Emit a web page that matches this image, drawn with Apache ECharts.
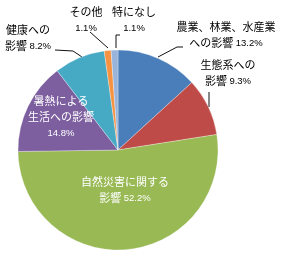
<!DOCTYPE html>
<html>
<head>
<meta charset="utf-8">
<script src="https://cdn.jsdelivr.net/npm/echarts@6/dist/echarts.min.js"></script>
<style>
  html, body { margin: 0; padding: 0; background: #fff; }
  #chart { width: 282px; height: 255px; }
</style>
</head>
<body>
<div id="chart"></div>
<script>
// 回答の内訳（%）
var categories = ['農業、林業、水産業への影響', '生態系への影響', '自然災害に関する影響', '暑熱による生活への影響', '健康への影響', 'その他', '特になし'];
var labelNames = ['農業、林業、水産業\nへの影響', '生態系への\n影響', '自然災害に関する\n影響', '暑熱による\n生活への影響', '健康への\n影響', 'その他', '特になし'];
var values = [13.2, 9.3, 52.2, 14.8, 8.2, 1.1, 1.1];
var colors = ['#4a7ebb', '#be4b48', '#98b954', '#7d5fa0', '#46aac5', '#f59343', '#98b4da'];
// 割合を改行して出すか
var pctOnNewLine = [false, false, false, true, false, true, true];
var insideLabel = [false, false, true, true, false, false, false];
// ラベルの置き場所（中心）と引き出し線
var labelPos = [[226, 35], [228, 73], [125, 190], [61, 117], [28, 38], [86, 20], [134, 20]];
var leaderLines = [
    [[158, 57], [177, 47], [183, 47]],
    [[209, 107], [209, 92]],
    null,
    null,
    [[82, 57], [73, 51], [55, 50]],
    [[108, 48], [90, 32]],
    [[116, 48], [116, 35], [120, 35]]
];

var chart = echarts.init(document.getElementById('chart'));

var data = [];
for (var i = 0; i < categories.length; i++) {
    var inside = insideLabel[i];
    data.push({
        name: categories[i],
        value: values[i],
        itemStyle: { color: colors[i] },
        label: {
            position: inside ? 'inside' : 'outside',
            color: inside ? '#fff' : '#000'
        },
        labelLine: { show: !inside }
    });
}

var option = {
    animation: false,
    series: [{
        type: 'pie',
        center: [118, 150],
        radius: 100,
        startAngle: 90,
        clockwise: true,
        data: data,
        itemStyle: { borderColor: 'rgba(255,255,255,0.5)', borderWidth: 0.6 },
        label: {
            fontFamily: 'Noto Sans CJK JP',
            fontSize: 11,
            lineHeight: 16,
            align: 'center',
            overflow: 'none',
            formatter: function (p) {
                var i = p.dataIndex;
                var parts = labelNames[i].split('\n');
                var out = parts.map(function (s) { return '{n|' + s + '}'; });
                if (!pctOnNewLine[i]) out[out.length - 1] += ' {p|' + values[i].toFixed(1) + '%}';
                var txt = out.join('\n');
                if (pctOnNewLine[i]) txt += '\n{p|' + values[i].toFixed(1) + '%}';
                return txt;
            },
            rich: {
                n: { fontFamily: 'Noto Sans CJK JP', fontSize: 11, lineHeight: 16 },
                p: { fontFamily: 'Liberation Sans', fontSize: 9.5, lineHeight: 16 }
            }
        },
        labelLine: {
            lineStyle: { color: '#111', width: 1 },
            length: 8,
            length2: 6
        },
        labelLayout: function (params) {
            var i = params.dataIndex;
            var pos = labelPos[i];
            var res = {
                x: pos[0],
                y: pos[1],
                align: 'center',
                verticalAlign: 'middle',
                moveOverlap: false,
                hideOverlap: false
            };
            if (leaderLines[i]) res.labelLinePoints = leaderLines[i];
            return res;
        }
    }]
};
chart.setOption(option);
</script>
</body>
</html>
